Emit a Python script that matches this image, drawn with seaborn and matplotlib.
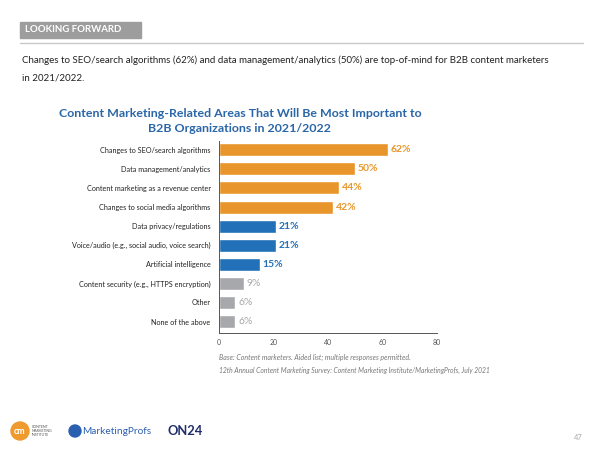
import matplotlib
matplotlib.use("Agg")
import matplotlib.pyplot as plt
import seaborn as sns
import pandas as pd
from matplotlib.patches import Rectangle, Ellipse

# Chart data
areas = [
    "Changes to SEO/search algorithms",
    "Data management/analytics",
    "Content marketing as a revenue center",
    "Changes to social media algorithms",
    "Data privacy/regulations",
    "Voice/audio (e.g., social audio, voice search)",
    "Artificial intelligence",
    "Content security (e.g., HTTPS encryption)",
    "Other",
    "None of the above",
]
percents = [62, 50, 44, 42, 21, 21, 15, 9, 6, 6]
groups = ["top", "top", "top", "top", "mid", "mid", "mid", "low", "low", "low"]
x_ticks = [0, 20, 40, 60, 80]

bar_colors = {"top": "#E8962B", "mid": "#2170B8", "low": "#A7A8AB"}
text_colors = {"top": "#E8962B", "mid": "#2170B8", "low": "#A7A8AB"}

df = pd.DataFrame({"area": areas, "pct": percents, "group": groups})

sns.set_style("white")
plt.rcParams["font.family"] = ["Lato", "DejaVu Sans"]

fig = plt.figure(figsize=(6, 4.5), dpi=100)
ax = fig.add_axes([0.365, 0.26, 0.363, 0.427])

sns.barplot(data=df, x="pct", y="area", hue="group", palette=bar_colors,
            dodge=False, legend=False, width=0.68, saturation=1, ax=ax)

# value labels
for i, (v, g) in enumerate(zip(percents, groups)):
    ax.text(v + 1.0, i, f"{v}%", va="center", ha="left", fontsize=7.5,
            fontweight="bold" if g != "low" else "normal", color=text_colors[g])

ax.set_xlim(0, 80)
ax.set_ylim(9.6, -0.47)
ax.set_xticks(x_ticks)
ax.set_xticklabels([str(t) for t in x_ticks], fontsize=5, color="#555555")
ax.tick_params(axis="x", direction="in", length=3, width=0.7, color="#555555", pad=4)
ax.tick_params(axis="y", length=0, labelsize=5.2, labelcolor="#222222", pad=6)
ax.set_xlabel("")
ax.set_ylabel("")
for s in ["top", "right"]:
    ax.spines[s].set_visible(False)
for s in ["left", "bottom"]:
    ax.spines[s].set_color("#555555")
    ax.spines[s].set_linewidth(0.7)

# header
fig.patches.append(Rectangle((20 / 600, 1 - 38 / 450), 121 / 600, 16 / 450,
                             transform=fig.transFigure, color="#9D9D9D", zorder=0))
fig.text(25 / 600, 1 - 30 / 450, "LOOKING FORWARD", color="white", fontsize=6.9,
         fontweight="bold", va="center", ha="left")
fig.add_artist(plt.Line2D([20 / 600, 583 / 600], [1 - 43 / 450, 1 - 43 / 450],
                          color="#C8C8C8", lw=1, transform=fig.transFigure))
fig.text(22 / 600, 1 - 60 / 450,
         "Changes to SEO/search algorithms (62%) and data management/analytics (50%) "
         "are top-of-mind for B2B content marketers",
         fontsize=7.0, color="#222222", va="center", ha="left")
fig.text(22 / 600, 1 - 78 / 450, "in 2021/2022.", fontsize=7.0, color="#222222",
         va="center", ha="left")

# chart title
fig.text(240 / 600, 1 - 121 / 450,
         "Content Marketing-Related Areas That Will Be Most Important to\n"
         "B2B Organizations in 2021/2022",
         fontsize=8.9, fontweight="bold", color="#2A66A8", ha="center", va="center",
         linespacing=1.4)

# footnotes
fig.text(219 / 600, 1 - 357 / 450,
         "Base: Content marketers. Aided list; multiple responses permitted.",
         fontsize=5, style="italic", color="#777777", va="center")
fig.text(219 / 600, 1 - 370 / 450,
         "12th Annual Content Marketing Survey: Content Marketing Institute/MarketingProfs, July 2021",
         fontsize=4.9, style="italic", color="#777777", va="center")

# logos (approximation)
fig.patches.append(Ellipse((20 / 600, 1 - 431 / 450), 18 / 600, 18 / 450,
                           transform=fig.transFigure, color="#EE9A2E"))
fig.text(20 / 600, 1 - 431 / 450, "cm", color="white", fontsize=6.5, fontweight="bold",
         ha="center", va="center")
fig.text(32 / 600, 1 - 431 / 450, "CONTENT\nMARKETING\nINSTITUTE", color="#555555",
         fontsize=2.5, ha="left", va="center", linespacing=1.0)
fig.patches.append(Ellipse((75 / 600, 1 - 431 / 450), 12 / 600, 12 / 450,
                           transform=fig.transFigure, color="#2B5FB0"))
fig.text(82 / 600, 1 - 431 / 450, "MarketingProfs", color="#2B5FB0", fontsize=7.3,
         ha="left", va="center")
fig.text(167 / 600, 1 - 431 / 450, "ON24", color="#1F2D6B", fontsize=9.3,
         fontweight="bold", ha="left", va="center")
fig.text(583 / 600, 1 - 437 / 450, "47", color="#AAAAAA", fontsize=5.5, ha="right",
         va="center")

fig.savefig("out.png", dpi=100)
